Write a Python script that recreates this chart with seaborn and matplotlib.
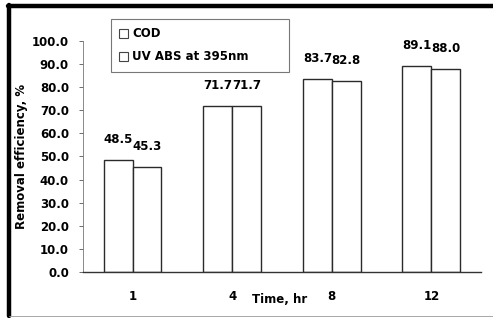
import numpy as np
import pandas as pd
import matplotlib.pyplot as plt
from matplotlib.lines import Line2D
import seaborn as sns

sns.set_style("white")
plt.rcParams['font.family'] = ['DejaVu Sans']
plt.rcParams['font.weight'] = 'bold'
plt.rcParams['font.size'] = 8.5
plt.rcParams['text.color'] = 'black'
plt.rcParams['axes.labelcolor'] = 'black'
plt.rcParams['xtick.color'] = 'black'
plt.rcParams['ytick.color'] = 'black'

# Data
times = ["1", "4", "8", "12"]
cod = [48.5, 71.7, 83.7, 89.1]
uv_abs = [45.3, 71.7, 82.8, 88.0]
series = ["COD", "UV ABS at 395nm"]
y_ticks = [0, 10, 20, 30, 40, 50, 60, 70, 80, 90, 100]

df = pd.DataFrame({
    "Time": times * 2,
    "Removal": cod + uv_abs,
    "Series": [series[0]] * len(times) + [series[1]] * len(times),
})

fig = plt.figure(figsize=(4.93, 3.18), dpi=100)
ax = fig.add_axes([0.168, 0.145, 0.808, 0.726])

sns.barplot(data=df, x="Time", y="Removal", hue="Series", order=times,
            hue_order=series, palette=["white", "white"], width=0.58,
            edgecolor="#2a2a2a", linewidth=1.0, saturation=1, gap=0, ax=ax)

# value labels above bars
for cont in ax.containers:
    ax.bar_label(cont, fmt="%.1f", padding=10, fontsize=8.5, fontweight="bold", color="black")

ax.set_ylim(0, 100)
ax.set_yticks(y_ticks)
ax.set_yticklabels([f"{v:.1f}" for v in y_ticks])
ax.tick_params(axis="y", direction="out", length=3, width=0.6, color="#555555", pad=7, left=True,
               labelcolor="black")
ax.tick_params(axis="x", length=0, pad=13, labelcolor="black")

sns.despine(ax=ax, top=True, right=True)
ax.spines["left"].set_color("#777777")
ax.spines["left"].set_linewidth(0.6)
ax.spines["left"].set_linestyle((0, (2, 1)))
ax.spines["bottom"].set_color("#333333")
ax.spines["bottom"].set_linewidth(1.0)

ax.set_ylabel("Removal efficiency, %", fontsize=8.5, fontweight="bold", color="black")
ax.yaxis.set_label_coords(-0.138, 0.5)
ax.set_xlabel("Time, hr", fontsize=8.5, fontweight="bold", color="black")
ax.xaxis.set_label_coords(0.495, -0.09)

# legend box up in the top left
sns.move_legend(ax, "upper left", bbox_to_anchor=(0.225, 0.78, 0.361, 0.16),
                bbox_transform=fig.transFigure, mode="expand", title=None,
                frameon=True, fancybox=False, handlelength=0.75, handleheight=0.75,
                handletextpad=0.35, labelspacing=0.85, borderpad=0.7, borderaxespad=0,
                prop={"weight": "bold", "size": 8.5})
leg = ax.get_legend()
leg.get_frame().set_edgecolor("#555555")
leg.get_frame().set_linewidth(0.8)
for h in leg.legend_handles:
    h.set_edgecolor("#444444")
    h.set_linewidth(0.8)
for t in leg.get_texts():
    t.set_color("black")

# scanned page frame
fig.add_artist(Line2D([0.018, 0.018], [0.005, 0.985], transform=fig.transFigure,
                      color="black", linewidth=3.2))
fig.add_artist(Line2D([0.016, 1.0], [0.982, 0.982], transform=fig.transFigure,
                      color="black", linewidth=3.2))
fig.add_artist(Line2D([0.018, 1.0], [0.007, 0.007], transform=fig.transFigure,
                      color="#999999", linewidth=0.6))

fig.savefig("out.png", dpi=100)
